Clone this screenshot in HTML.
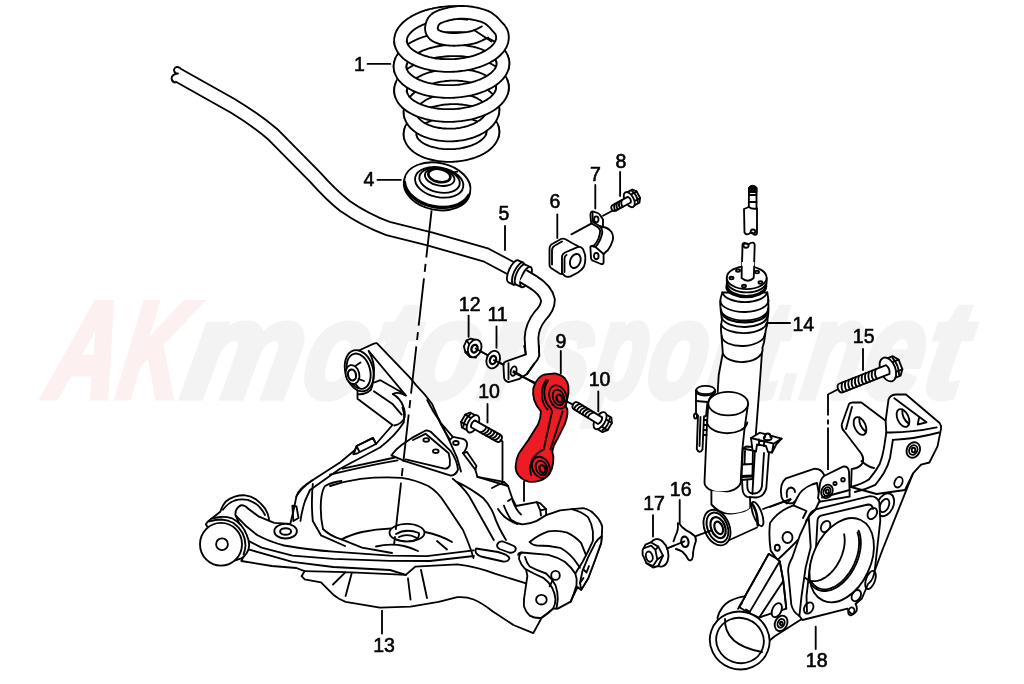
<!DOCTYPE html>
<html><head><meta charset="utf-8"><title>Rear suspension diagram</title>
<style>
html,body{margin:0;padding:0;background:#fff;}
body{width:1024px;height:684px;overflow:hidden;font-family:"Liberation Sans",sans-serif;}
svg{display:block}
svg path, svg ellipse, svg circle, svg line, svg polyline, svg polygon, svg rect{stroke:#000;stroke-width:1.85;fill:none;stroke-linecap:round;stroke-linejoin:round}
svg .w{fill:#fff}
svg .r{fill:#ed1c24}
svg .k{fill:#000}
svg text{font-family:"Liberation Sans",sans-serif;fill:#000;stroke:#000;stroke-width:0.6}
</style></head><body>
<svg width="1024" height="684" viewBox="0 0 1024 684">
<rect x="0" y="0" width="1024" height="684" style="fill:#fff;stroke:none"/>
<g id="watermark"><text transform="translate(0 396.8) skewX(-10)" y="0" font-size="136" font-weight="bold" font-style="italic" style="stroke-linejoin:miter;stroke-width:7"><tspan x="45.0" textLength="67.7" lengthAdjust="spacingAndGlyphs" style="fill:#fcf0f0;stroke:#fcf0f0">A</tspan><tspan x="115.5" textLength="62.2" lengthAdjust="spacingAndGlyphs" style="fill:#fcf0f0;stroke:#fcf0f0">K</tspan><tspan x="180.5" textLength="116.2" lengthAdjust="spacingAndGlyphs" style="fill:#f3f3f3;stroke:#f3f3f3">m</tspan><tspan x="299.5" textLength="64.2" lengthAdjust="spacingAndGlyphs" style="fill:#f3f3f3;stroke:#f3f3f3">o</tspan><tspan x="366.5" textLength="39.2" lengthAdjust="spacingAndGlyphs" style="fill:#f3f3f3;stroke:#f3f3f3">t</tspan><tspan x="408.5" textLength="66.2" lengthAdjust="spacingAndGlyphs" style="fill:#f3f3f3;stroke:#f3f3f3">o</tspan><tspan x="477.5" textLength="50.2" lengthAdjust="spacingAndGlyphs" style="fill:#f3f3f3;stroke:#f3f3f3">r</tspan><tspan x="530.5" textLength="56.2" lengthAdjust="spacingAndGlyphs" style="fill:#f3f3f3;stroke:#f3f3f3">s</tspan><tspan x="589.5" textLength="51.2" lengthAdjust="spacingAndGlyphs" style="fill:#f3f3f3;stroke:#f3f3f3">p</tspan><tspan x="643.5" textLength="57.2" lengthAdjust="spacingAndGlyphs" style="fill:#f3f3f3;stroke:#f3f3f3">o</tspan><tspan x="703.5" textLength="38.2" lengthAdjust="spacingAndGlyphs" style="fill:#f3f3f3;stroke:#f3f3f3">r</tspan><tspan x="744.5" textLength="32.2" lengthAdjust="spacingAndGlyphs" style="fill:#f3f3f3;stroke:#f3f3f3">t</tspan><tspan x="779.5" textLength="17.2" lengthAdjust="spacingAndGlyphs" style="fill:#f3f3f3;stroke:#f3f3f3">.</tspan><tspan x="799.5" textLength="57.2" lengthAdjust="spacingAndGlyphs" style="fill:#f3f3f3;stroke:#f3f3f3">n</tspan><tspan x="859.5" textLength="58.2" lengthAdjust="spacingAndGlyphs" style="fill:#f3f3f3;stroke:#f3f3f3">e</tspan><tspan x="920.5" textLength="38.2" lengthAdjust="spacingAndGlyphs" style="fill:#f3f3f3;stroke:#f3f3f3">t</tspan></text></g>
<g id="bar"><path d="M176 74 L233 106 Q256 120 273 134.500 L315 177 Q332 196 345 206 Q365 220 388 228.500 L430 239 L486 255 L517 271.500" style="fill:none;stroke:#000;stroke-width:15.5;stroke-linecap:butt" /><path d="M176 74 L233 106 Q256 120 273 134.500 L315 177 Q332 196 345 206 Q365 220 388 228.500 L430 239 L486 255 L517 271.500" style="fill:none;stroke:#fff;stroke-width:11.8;stroke-linecap:butt" /><path class="w" d="M180 68 Q175.500 65.500 174 69.500 Q174 73.500 178 73.500 Q172 74 171.500 78.500 Q172 82 175 82.500" /><g transform="translate(521.500 275) rotate(24)"><path class="w" d="M-9 -12 A4.500 12 0 0 0 -9 12 L-3.500 12 A4.500 12 0 0 0 -3.500 -12 Z"/><path d="M-3.500 -12 A4.500 12 0 0 0 -3.500 12"/><path class="w" d="M-1 -11 A4.200 11 0 0 0 -1 11 L5 11 A4.200 11 0 0 0 5 -11 Z"/><path d="M5 -11 A4.200 11 0 0 0 5 11"/></g><path d="M523 276 L533 282 Q546 290 548 300 Q548 308 540 316 Q532 326 531.500 338 L532.500 357" style="fill:none;stroke:#000;stroke-width:15.5;stroke-linecap:butt" /><path d="M523 276 L533 282 Q546 290 548 300 Q548 308 540 316 Q532 326 531.500 338 L532.500 357" style="fill:none;stroke:#fff;stroke-width:11.8;stroke-linecap:butt" /><path class="w" d="M524.500 353 L540 353 L539.200 356 Q538 360 534.800 363.100 L526.800 374.100 L518.700 379.200 L508.500 382.100 Q504.500 381 504.100 377.700 L503.400 364.600 Q503.500 362.500 505.600 361.600 L526 354.300 Z" style="stroke:none"/><path d="M524.200 346 L526 354.300 L505.600 361.600 Q503.500 362.500 503.400 364.600 L504.100 377.700 Q504.500 381 508.500 382.100 L518.700 379.200 L526.800 374.100 L534.800 363.100 Q538 360 539.200 355.800 L539 346"/><path d="M508.500 363.100 L508.500 379.200 M526.800 374.100 L534 364"/><ellipse cx="513.600" cy="371.100" rx="2.800" ry="4.800" transform="rotate(15 513.600 371.100)"/></g>
<g id="spring"><path d="M410.8 138.5 L410.4 137.3 L410.1 136.0 L410.0 134.7 L410.0 133.5 L410.2 132.2 L410.5 130.9 L410.9 129.6 L411.4 128.4 L412.1 127.1 L412.9 125.9 L413.8 124.7 L414.9 123.5 L416.0 122.4 L417.3 121.3 L418.7 120.2 L420.2 119.1 L421.8 118.2 L423.5 117.2 L425.3 116.3 L427.2 115.5 L429.1 114.7 L431.2 114.0 L433.3 113.3 L435.4 112.7 L437.6 112.2 L439.9 111.8 L442.1 111.4 L444.5 111.0 L446.8 110.8 L449.1 110.6 L451.5 110.5 L453.9 110.5 L456.2 110.5 L458.5 110.6 L460.9 110.8 L463.1 111.1 L465.4 111.4 L467.6 111.8 L469.7 112.2 L471.8 112.8 L473.9 113.4 L475.8 114.0 L477.7 114.8 L479.5 115.5 L481.2 116.4 L482.8 117.3 L484.3 118.2 L485.7 119.2 L487.0 120.2 L488.1 121.3 L489.2 122.4 L490.1 123.6 L490.9 124.8 L491.6 126.0 L492.1 127.2 L492.5 128.4 L492.8 129.7 L493.0 131.0 L493.0 132.3 L492.9 133.5 L492.6 134.8 L492.2 136.1" style="fill:none;stroke:#000;stroke-width:14.5;stroke-linecap:butt"/><path d="M411.3 139.8 L410.8 138.5 L410.4 137.3 L410.1 136.0 L410.0 134.7 L410.0 133.5 L410.2 132.2 L410.5 130.9 L410.9 129.6 L411.4 128.4 L412.1 127.1 L412.9 125.9 L413.8 124.7 L414.9 123.5 L416.0 122.4 L417.3 121.3 L418.7 120.2 L420.2 119.1 L421.8 118.2 L423.5 117.2 L425.3 116.3 L427.2 115.5 L429.1 114.7 L431.2 114.0 L433.3 113.3 L435.4 112.7 L437.6 112.2 L439.9 111.8 L442.1 111.4 L444.5 111.0 L446.8 110.8 L449.1 110.6 L451.5 110.5 L453.9 110.5 L456.2 110.5 L458.5 110.6 L460.9 110.8 L463.1 111.1 L465.4 111.4 L467.6 111.8 L469.7 112.2 L471.8 112.8 L473.9 113.4 L475.8 114.0 L477.7 114.8 L479.5 115.5 L481.2 116.4 L482.8 117.3 L484.3 118.2 L485.7 119.2 L487.0 120.2 L488.1 121.3 L489.2 122.4 L490.1 123.6 L490.9 124.8 L491.6 126.0 L492.1 127.2 L492.5 128.4 L492.8 129.7 L493.0 131.0 L493.0 132.3 L492.9 133.5 L492.6 134.8 L492.2 136.1 L491.7 137.4" style="fill:none;stroke:#fff;stroke-width:10.8;stroke-linecap:butt"/><path d="M410.8 116.8 L410.4 115.5 L410.1 114.1 L410.0 112.8 L410.0 111.4 L410.2 110.0 L410.5 108.7 L410.9 107.3 L411.4 106.0 L412.1 104.7 L412.9 103.3 L413.8 102.1 L414.9 100.8 L416.0 99.6 L417.3 98.4 L418.7 97.3 L420.2 96.2 L421.8 95.1 L423.5 94.1 L425.3 93.2 L427.2 92.3 L429.1 91.5 L431.2 90.7 L433.3 90.0 L435.4 89.4 L437.6 88.8 L439.9 88.3 L442.1 87.9 L444.5 87.6 L446.8 87.3 L449.1 87.1 L451.5 87.0 L453.9 87.0 L456.2 87.0 L458.5 87.1 L460.9 87.3 L463.1 87.6 L465.4 88.0 L467.6 88.4 L469.7 88.9 L471.8 89.5 L473.9 90.1 L475.8 90.8 L477.7 91.6 L479.5 92.4 L481.2 93.3 L482.8 94.3 L484.3 95.3 L485.7 96.4 L487.0 97.5 L488.1 98.6 L489.2 99.8 L490.1 101.0 L490.9 102.3 L491.6 103.6 L492.1 104.9 L492.5 106.2 L492.8 107.6 L493.0 108.9 L493.0 110.3 L492.9 111.7 L492.6 113.0 L492.2 114.4" style="fill:none;stroke:#000;stroke-width:14.5;stroke-linecap:butt"/><path d="M411.3 118.1 L410.8 116.8 L410.4 115.5 L410.1 114.1 L410.0 112.8 L410.0 111.4 L410.2 110.0 L410.5 108.7 L410.9 107.3 L411.4 106.0 L412.1 104.7 L412.9 103.3 L413.8 102.1 L414.9 100.8 L416.0 99.6 L417.3 98.4 L418.7 97.3 L420.2 96.2 L421.8 95.1 L423.5 94.1 L425.3 93.2 L427.2 92.3 L429.1 91.5 L431.2 90.7 L433.3 90.0 L435.4 89.4 L437.6 88.8 L439.9 88.3 L442.1 87.9 L444.5 87.6 L446.8 87.3 L449.1 87.1 L451.5 87.0 L453.9 87.0 L456.2 87.0 L458.5 87.1 L460.9 87.3 L463.1 87.6 L465.4 88.0 L467.6 88.4 L469.7 88.9 L471.8 89.5 L473.9 90.1 L475.8 90.8 L477.7 91.6 L479.5 92.4 L481.2 93.3 L482.8 94.3 L484.3 95.3 L485.7 96.4 L487.0 97.5 L488.1 98.6 L489.2 99.8 L490.1 101.0 L490.9 102.3 L491.6 103.6 L492.1 104.9 L492.5 106.2 L492.8 107.6 L493.0 108.9 L493.0 110.3 L492.9 111.7 L492.6 113.0 L492.2 114.4 L491.7 115.7" style="fill:none;stroke:#fff;stroke-width:10.8;stroke-linecap:butt"/><path d="M401.4 95.6 L401.0 94.1 L400.7 92.6 L400.5 91.1 L400.5 89.6 L400.7 88.1 L401.1 86.6 L401.6 85.1 L402.2 83.6 L403.1 82.1 L404.1 80.7 L405.2 79.3 L406.5 77.9 L407.9 76.5 L409.5 75.2 L411.2 74.0 L413.1 72.7 L415.0 71.6 L417.1 70.5 L419.3 69.4 L421.6 68.4 L424.0 67.5 L426.5 66.6 L429.1 65.9 L431.7 65.2 L434.4 64.5 L437.2 64.0 L440.0 63.5 L442.8 63.1 L445.7 62.8 L448.6 62.6 L451.5 62.5 L454.4 62.5 L457.3 62.5 L460.2 62.6 L463.0 62.8 L465.8 63.1 L468.6 63.5 L471.3 64.0 L473.9 64.5 L476.5 65.1 L479.0 65.9 L481.4 66.6 L483.7 67.5 L485.9 68.4 L488.0 69.4 L489.9 70.4 L491.8 71.5 L493.5 72.7 L495.1 73.9 L496.5 75.2 L497.8 76.5 L498.9 77.8 L499.9 79.2 L500.8 80.7 L501.4 82.1 L501.9 83.6 L502.3 85.1 L502.5 86.6 L502.5 88.1 L502.3 89.6 L502.0 91.1 L501.6 92.6" style="fill:none;stroke:#000;stroke-width:14.5;stroke-linecap:butt"/><path d="M402.1 97.0 L401.4 95.6 L401.0 94.1 L400.7 92.6 L400.5 91.1 L400.5 89.6 L400.7 88.1 L401.1 86.6 L401.6 85.1 L402.2 83.6 L403.1 82.1 L404.1 80.7 L405.2 79.3 L406.5 77.9 L407.9 76.5 L409.5 75.2 L411.2 74.0 L413.1 72.7 L415.0 71.6 L417.1 70.5 L419.3 69.4 L421.6 68.4 L424.0 67.5 L426.5 66.6 L429.1 65.9 L431.7 65.2 L434.4 64.5 L437.2 64.0 L440.0 63.5 L442.8 63.1 L445.7 62.8 L448.6 62.6 L451.5 62.5 L454.4 62.5 L457.3 62.5 L460.2 62.6 L463.0 62.8 L465.8 63.1 L468.6 63.5 L471.3 64.0 L473.9 64.5 L476.5 65.1 L479.0 65.9 L481.4 66.6 L483.7 67.5 L485.9 68.4 L488.0 69.4 L489.9 70.4 L491.8 71.5 L493.5 72.7 L495.1 73.9 L496.5 75.2 L497.8 76.5 L498.9 77.8 L499.9 79.2 L500.8 80.7 L501.4 82.1 L501.9 83.6 L502.3 85.1 L502.5 86.6 L502.5 88.1 L502.3 89.6 L502.0 91.1 L501.6 92.6 L500.9 94.1" style="fill:none;stroke:#fff;stroke-width:10.8;stroke-linecap:butt"/><path d="M401.0 71.6 L400.5 70.1 L400.2 68.6 L400.0 67.1 L400.0 65.6 L400.2 64.1 L400.6 62.6 L401.1 61.1 L401.8 59.6 L402.6 58.2 L403.6 56.7 L404.7 55.3 L406.1 53.9 L407.5 52.5 L409.1 51.2 L410.8 50.0 L412.7 48.7 L414.7 47.6 L416.8 46.5 L419.0 45.4 L421.3 44.4 L423.8 43.5 L426.3 42.7 L428.9 41.9 L431.5 41.2 L434.3 40.5 L437.0 40.0 L439.9 39.5 L442.8 39.1 L445.7 38.8 L448.6 38.6 L451.5 38.5 L454.4 38.5 L457.3 38.5 L460.2 38.6 L463.1 38.8 L466.0 39.1 L468.7 39.5 L471.5 40.0 L474.1 40.5 L476.7 41.1 L479.2 41.8 L481.7 42.6 L484.0 43.5 L486.2 44.4 L488.3 45.4 L490.3 46.4 L492.2 47.5 L493.9 48.7 L495.5 49.9 L496.9 51.2 L498.3 52.5 L499.4 53.8 L500.4 55.2 L501.2 56.6 L501.9 58.1 L502.4 59.6 L502.8 61.0 L503.0 62.5 L503.0 64.0 L502.8 65.6 L502.5 67.1 L502.0 68.6" style="fill:none;stroke:#000;stroke-width:14.5;stroke-linecap:butt"/><path d="M401.6 73.1 L401.0 71.6 L400.5 70.1 L400.2 68.6 L400.0 67.1 L400.0 65.6 L400.2 64.1 L400.6 62.6 L401.1 61.1 L401.8 59.6 L402.6 58.2 L403.6 56.7 L404.7 55.3 L406.1 53.9 L407.5 52.5 L409.1 51.2 L410.8 50.0 L412.7 48.7 L414.7 47.6 L416.8 46.5 L419.0 45.4 L421.3 44.4 L423.8 43.5 L426.3 42.7 L428.9 41.9 L431.5 41.2 L434.3 40.5 L437.0 40.0 L439.9 39.5 L442.8 39.1 L445.7 38.8 L448.6 38.6 L451.5 38.5 L454.4 38.5 L457.3 38.5 L460.2 38.6 L463.1 38.8 L466.0 39.1 L468.7 39.5 L471.5 40.0 L474.1 40.5 L476.7 41.1 L479.2 41.8 L481.7 42.6 L484.0 43.5 L486.2 44.4 L488.3 45.4 L490.3 46.4 L492.2 47.5 L493.9 48.7 L495.5 49.9 L496.9 51.2 L498.3 52.5 L499.4 53.8 L500.4 55.2 L501.2 56.6 L501.9 58.1 L502.4 59.6 L502.8 61.0 L503.0 62.5 L503.0 64.0 L502.8 65.6 L502.5 67.1 L502.0 68.6 L501.4 70.1" style="fill:none;stroke:#fff;stroke-width:10.8;stroke-linecap:butt"/><path d="M401.2 44.9 L400.9 44.0 L400.8 43.2 L400.6 42.3 L400.5 41.4 L400.5 40.5 L400.5 39.6 L400.6 38.7 L400.8 37.8 L401.0 36.9 L401.2 36.0 L401.5 35.2 L401.9 34.3 L402.3 33.4 L402.8 32.5 L403.4 31.7 L404.0 30.8 L404.6 30.0 L405.3 29.2 L406.1 28.3 L406.9 27.5 L407.7 26.7 L408.6 25.9 L409.6 25.2 L410.6 24.4 L411.6 23.7 L412.7 23.0 L413.8 22.3 L415.0 21.6 L416.2 20.9 L417.5 20.3 L418.8 19.7 L420.1 19.1 L421.5 18.5 L422.9 17.9 L424.3 17.4 L425.8 16.9 L427.2 16.4 L428.8 16.0 L430.3 15.5 L431.9 15.1 L433.5 14.8 L435.1 14.4 L436.7 14.1 L438.4 13.8 L440.0 13.5 L441.7 13.3 L443.4 13.1 L445.1 12.9 L446.8 12.8 L448.5 12.6 L450.2 12.5 L451.9 12.5 L453.6 12.5 L455.3 12.5 L457.0 12.5 L458.7 12.6 L460.4 12.6 L462.1 12.8 L463.8 12.9 L465.4 13.1 L467.1 13.3 L468.7 13.5" style="fill:none;stroke:#000;stroke-width:14.5;stroke-linecap:butt"/><path d="M401.5 45.8 L401.2 44.9 L400.9 44.0 L400.8 43.2 L400.6 42.3 L400.5 41.4 L400.5 40.5 L400.5 39.6 L400.6 38.7 L400.8 37.8 L401.0 36.9 L401.2 36.0 L401.5 35.2 L401.9 34.3 L402.3 33.4 L402.8 32.5 L403.4 31.7 L404.0 30.8 L404.6 30.0 L405.3 29.2 L406.1 28.3 L406.9 27.5 L407.7 26.7 L408.6 25.9 L409.6 25.2 L410.6 24.4 L411.6 23.7 L412.7 23.0 L413.8 22.3 L415.0 21.6 L416.2 20.9 L417.5 20.3 L418.8 19.7 L420.1 19.1 L421.5 18.5 L422.9 17.9 L424.3 17.4 L425.8 16.9 L427.2 16.4 L428.8 16.0 L430.3 15.5 L431.9 15.1 L433.5 14.8 L435.1 14.4 L436.7 14.1 L438.4 13.8 L440.0 13.5 L441.7 13.3 L443.4 13.1 L445.1 12.9 L446.8 12.8 L448.5 12.6 L450.2 12.5 L451.9 12.5 L453.6 12.5 L455.3 12.5 L457.0 12.5 L458.7 12.6 L460.4 12.6 L462.1 12.8 L463.8 12.9 L465.4 13.1 L467.1 13.3 L468.7 13.5 L470.3 13.8" style="fill:none;stroke:#fff;stroke-width:10.8;stroke-linecap:butt"/><path d="M491.8 126.4 L492.3 127.7 L492.7 129.0 L492.9 130.3 L493.0 131.6 L492.9 132.9 L492.8 134.2 L492.4 135.5 L491.9 136.8 L491.3 138.1 L490.6 139.4 L489.7 140.6 L488.7 141.9 L487.5 143.1 L486.3 144.2 L484.9 145.4 L483.4 146.4 L481.8 147.5 L480.1 148.5 L478.3 149.4 L476.4 150.3 L474.4 151.1 L472.3 151.8 L470.2 152.5 L468.0 153.1 L465.8 153.7 L463.5 154.2 L461.1 154.6 L458.7 154.9 L456.3 155.2 L453.9 155.4 L451.5 155.5 L449.1 155.5 L446.7 155.5 L444.3 155.4 L441.9 155.2 L439.5 154.9 L437.2 154.6 L435.0 154.1 L432.8 153.6 L430.7 153.1 L428.6 152.5 L426.6 151.8 L424.7 151.0 L422.9 150.2 L421.2 149.3 L419.6 148.3 L418.1 147.4 L416.7 146.3 L415.5 145.2 L414.3 144.1 L413.3 142.9 L412.4 141.7 L411.7 140.5 L411.1 139.3 L410.6 138.0 L410.2 136.7 L410.1 135.4 L410.0 134.1 L410.1 132.8 L410.3 131.4 L410.7 130.1 L411.2 128.8" style="fill:none;stroke:#000;stroke-width:14.5;stroke-linecap:butt"/><path d="M491.1 125.2 L491.8 126.4 L492.3 127.7 L492.7 129.0 L492.9 130.3 L493.0 131.6 L492.9 132.9 L492.8 134.2 L492.4 135.5 L491.9 136.8 L491.3 138.1 L490.6 139.4 L489.7 140.6 L488.7 141.9 L487.5 143.1 L486.3 144.2 L484.9 145.4 L483.4 146.4 L481.8 147.5 L480.1 148.5 L478.3 149.4 L476.4 150.3 L474.4 151.1 L472.3 151.8 L470.2 152.5 L468.0 153.1 L465.8 153.7 L463.5 154.2 L461.1 154.6 L458.7 154.9 L456.3 155.2 L453.9 155.4 L451.5 155.5 L449.1 155.5 L446.7 155.5 L444.3 155.4 L441.9 155.2 L439.5 154.9 L437.2 154.6 L435.0 154.1 L432.8 153.6 L430.7 153.1 L428.6 152.5 L426.6 151.8 L424.7 151.0 L422.9 150.2 L421.2 149.3 L419.6 148.3 L418.1 147.4 L416.7 146.3 L415.5 145.2 L414.3 144.1 L413.3 142.9 L412.4 141.7 L411.7 140.5 L411.1 139.3 L410.6 138.0 L410.2 136.7 L410.1 135.4 L410.0 134.1 L410.1 132.8 L410.3 131.4 L410.7 130.1 L411.2 128.8 L411.9 127.5" style="fill:none;stroke:#fff;stroke-width:10.8;stroke-linecap:butt"/><path d="M491.8 104.1 L492.3 105.4 L492.7 106.8 L492.9 108.2 L493.0 109.6 L492.9 111.0 L492.8 112.4 L492.4 113.8 L491.9 115.2 L491.3 116.5 L490.6 117.9 L489.7 119.2 L488.7 120.5 L487.5 121.8 L486.3 123.0 L484.9 124.2 L483.4 125.4 L481.8 126.5 L480.1 127.5 L478.3 128.5 L476.4 129.5 L474.4 130.3 L472.3 131.1 L470.2 131.9 L468.0 132.5 L465.8 133.1 L463.5 133.6 L461.1 134.1 L458.7 134.4 L456.3 134.7 L453.9 134.9 L451.5 135.0 L449.1 135.0 L446.7 135.0 L444.3 134.8 L441.9 134.6 L439.5 134.3 L437.2 134.0 L435.0 133.5 L432.8 133.0 L430.7 132.4 L428.6 131.7 L426.6 131.0 L424.7 130.1 L422.9 129.3 L421.2 128.3 L419.6 127.3 L418.1 126.2 L416.7 125.1 L415.5 124.0 L414.3 122.8 L413.3 121.5 L412.4 120.2 L411.7 118.9 L411.1 117.6 L410.6 116.2 L410.2 114.9 L410.1 113.5 L410.0 112.1 L410.1 110.7 L410.3 109.3 L410.7 107.9 L411.2 106.5" style="fill:none;stroke:#000;stroke-width:14.5;stroke-linecap:butt"/><path d="M491.1 102.7 L491.8 104.1 L492.3 105.4 L492.7 106.8 L492.9 108.2 L493.0 109.6 L492.9 111.0 L492.8 112.4 L492.4 113.8 L491.9 115.2 L491.3 116.5 L490.6 117.9 L489.7 119.2 L488.7 120.5 L487.5 121.8 L486.3 123.0 L484.9 124.2 L483.4 125.4 L481.8 126.5 L480.1 127.5 L478.3 128.5 L476.4 129.5 L474.4 130.3 L472.3 131.1 L470.2 131.9 L468.0 132.5 L465.8 133.1 L463.5 133.6 L461.1 134.1 L458.7 134.4 L456.3 134.7 L453.9 134.9 L451.5 135.0 L449.1 135.0 L446.7 135.0 L444.3 134.8 L441.9 134.6 L439.5 134.3 L437.2 134.0 L435.0 133.5 L432.8 133.0 L430.7 132.4 L428.6 131.7 L426.6 131.0 L424.7 130.1 L422.9 129.3 L421.2 128.3 L419.6 127.3 L418.1 126.2 L416.7 125.1 L415.5 124.0 L414.3 122.8 L413.3 121.5 L412.4 120.2 L411.7 118.9 L411.1 117.6 L410.6 116.2 L410.2 114.9 L410.1 113.5 L410.0 112.1 L410.1 110.7 L410.3 109.3 L410.7 107.9 L411.2 106.5 L411.9 105.1" style="fill:none;stroke:#fff;stroke-width:10.8;stroke-linecap:butt"/><path d="M501.0 81.2 L501.6 82.7 L502.1 84.2 L502.4 85.7 L502.5 87.3 L502.4 88.8 L502.2 90.4 L501.8 91.9 L501.2 93.5 L500.4 95.0 L499.5 96.5 L498.4 97.9 L497.2 99.4 L495.8 100.8 L494.2 102.2 L492.5 103.5 L490.7 104.8 L488.7 106.0 L486.6 107.2 L484.4 108.3 L482.1 109.3 L479.6 110.3 L477.1 111.1 L474.5 112.0 L471.8 112.7 L469.0 113.4 L466.2 113.9 L463.3 114.4 L460.4 114.8 L457.4 115.1 L454.5 115.4 L451.5 115.5 L448.5 115.5 L445.6 115.5 L442.6 115.4 L439.7 115.1 L436.8 114.8 L434.0 114.4 L431.2 113.9 L428.5 113.3 L425.9 112.7 L423.4 111.9 L420.9 111.1 L418.6 110.2 L416.4 109.3 L414.3 108.2 L412.3 107.1 L410.5 106.0 L408.8 104.7 L407.2 103.5 L405.8 102.1 L404.6 100.8 L403.5 99.4 L402.6 97.9 L401.8 96.4 L401.2 94.9 L400.8 93.4 L400.6 91.9 L400.5 90.3 L400.6 88.8 L400.9 87.2 L401.4 85.7 L402.0 84.1" style="fill:none;stroke:#000;stroke-width:14.5;stroke-linecap:butt"/><path d="M500.2 79.7 L501.0 81.2 L501.6 82.7 L502.1 84.2 L502.4 85.7 L502.5 87.3 L502.4 88.8 L502.2 90.4 L501.8 91.9 L501.2 93.5 L500.4 95.0 L499.5 96.5 L498.4 97.9 L497.2 99.4 L495.8 100.8 L494.2 102.2 L492.5 103.5 L490.7 104.8 L488.7 106.0 L486.6 107.2 L484.4 108.3 L482.1 109.3 L479.6 110.3 L477.1 111.1 L474.5 112.0 L471.8 112.7 L469.0 113.4 L466.2 113.9 L463.3 114.4 L460.4 114.8 L457.4 115.1 L454.5 115.4 L451.5 115.5 L448.5 115.5 L445.6 115.5 L442.6 115.4 L439.7 115.1 L436.8 114.8 L434.0 114.4 L431.2 113.9 L428.5 113.3 L425.9 112.7 L423.4 111.9 L420.9 111.1 L418.6 110.2 L416.4 109.3 L414.3 108.2 L412.3 107.1 L410.5 106.0 L408.8 104.7 L407.2 103.5 L405.8 102.1 L404.6 100.8 L403.5 99.4 L402.6 97.9 L401.8 96.4 L401.2 94.9 L400.8 93.4 L400.6 91.9 L400.5 90.3 L400.6 88.8 L400.9 87.2 L401.4 85.7 L402.0 84.1 L402.8 82.6" style="fill:none;stroke:#fff;stroke-width:10.8;stroke-linecap:butt"/><path d="M501.5 57.2 L502.1 58.7 L502.6 60.2 L502.9 61.7 L503.0 63.3 L502.9 64.8 L502.7 66.4 L502.3 67.9 L501.7 69.4 L500.9 71.0 L500.0 72.5 L498.9 73.9 L497.6 75.4 L496.2 76.8 L494.7 78.2 L492.9 79.5 L491.1 80.8 L489.1 82.0 L487.0 83.1 L484.7 84.2 L482.4 85.3 L479.9 86.2 L477.4 87.1 L474.7 88.0 L472.0 88.7 L469.2 89.4 L466.3 89.9 L463.4 90.4 L460.5 90.8 L457.5 91.1 L454.5 91.4 L451.5 91.5 L448.5 91.5 L445.5 91.5 L442.5 91.4 L439.6 91.1 L436.7 90.8 L433.8 90.4 L431.0 89.9 L428.3 89.4 L425.6 88.7 L423.1 88.0 L420.6 87.1 L418.3 86.2 L416.0 85.3 L413.9 84.2 L411.9 83.1 L410.1 82.0 L408.3 80.7 L406.8 79.5 L405.4 78.1 L404.1 76.8 L403.0 75.4 L402.1 73.9 L401.3 72.4 L400.7 70.9 L400.3 69.4 L400.1 67.9 L400.0 66.3 L400.1 64.8 L400.4 63.2 L400.9 61.7 L401.5 60.2" style="fill:none;stroke:#000;stroke-width:14.5;stroke-linecap:butt"/><path d="M500.7 55.7 L501.5 57.2 L502.1 58.7 L502.6 60.2 L502.9 61.7 L503.0 63.3 L502.9 64.8 L502.7 66.4 L502.3 67.9 L501.7 69.4 L500.9 71.0 L500.0 72.5 L498.9 73.9 L497.6 75.4 L496.2 76.8 L494.7 78.2 L492.9 79.5 L491.1 80.8 L489.1 82.0 L487.0 83.1 L484.7 84.2 L482.4 85.3 L479.9 86.2 L477.4 87.1 L474.7 88.0 L472.0 88.7 L469.2 89.4 L466.3 89.9 L463.4 90.4 L460.5 90.8 L457.5 91.1 L454.5 91.4 L451.5 91.5 L448.5 91.5 L445.5 91.5 L442.5 91.4 L439.6 91.1 L436.7 90.8 L433.8 90.4 L431.0 89.9 L428.3 89.4 L425.6 88.7 L423.1 88.0 L420.6 87.1 L418.3 86.2 L416.0 85.3 L413.9 84.2 L411.9 83.1 L410.1 82.0 L408.3 80.7 L406.8 79.5 L405.4 78.1 L404.1 76.8 L403.0 75.4 L402.1 73.9 L401.3 72.4 L400.7 70.9 L400.3 69.4 L400.1 67.9 L400.0 66.3 L400.1 64.8 L400.4 63.2 L400.9 61.7 L401.5 60.2 L402.3 58.6" style="fill:none;stroke:#fff;stroke-width:10.8;stroke-linecap:butt"/><path d="M485.5 31.7 L485.0 32.0 L484.3 32.3 L483.7 32.7 L482.9 33.1 L482.1 33.5 L481.2 33.9 L480.3 34.4 L479.4 34.8 L478.4 35.3 L477.4 35.7 L476.3 36.2 L475.3 36.5 L474.2 36.9 L473.1 37.2 L472.0 37.5 L470.9 37.7 L469.6 38.0 L468.4 38.2 L467.0 38.4 L465.6 38.6 L464.2 38.7 L462.8 38.9 L461.4 39.0 L459.9 39.1 L458.5 39.2 L457.1 39.3 L455.7 39.3 L454.3 39.4 L453.0 39.4 L451.8 39.3 L450.6 39.3 L449.5 39.2 L448.3 39.1 L447.2 39.0 L446.1 38.8 L445.0 38.7 L444.0 38.5 L443.0 38.3 L442.0 38.0 L441.0 37.8 L440.1 37.5 L439.2 37.2 L438.3 36.9 L437.6 36.6 L436.8 36.2 L436.1 35.9 L435.5 35.5 L434.9 35.1 L434.4 34.7 L433.9 34.3 L433.5 33.8 L433.1 33.3 L432.7 32.8 L432.4 32.3 L432.1 31.8 L431.9 31.2 L431.7 30.7 L431.6 30.1 L431.5 29.6 L431.4 29.0 L431.4 28.4 L431.4 27.9 L431.5 27.3 L431.6 26.7 L431.7 26.1 L431.8 25.5 L432.0 24.9 L432.2 24.2 L432.4 23.5 L432.7 22.9 L433.0 22.2 L433.4 21.6 L433.8 20.9 L434.4 20.3 L434.9 19.7 L435.6 19.1 L436.3 18.5 L437.1 18.0 L438.0 17.5 L439.0 17.0 L440.1 16.6 L441.4 16.1 L442.7 15.6 L444.1 15.2 L445.6 14.8 L447.1 14.4 L448.7 14.0 L450.3 13.6 L451.9 13.3 L453.6 13.0 L455.2 12.8 L456.9 12.6 L458.5 12.4 L460.1 12.3 L461.6 12.3 L463.1 12.3 L464.7 12.4 L466.3 12.5 L467.9 12.6 L469.5 12.8 L471.2 13.0 L472.8 13.3 L474.4 13.6 L476.0 13.9 L477.6 14.3 L479.2 14.7 L480.6 15.1 L482.1 15.5 L483.5 16.0 L484.8 16.5 L486.0 17.0 L487.2 17.6 L488.3 18.2 L489.4 19.0 L490.5 19.8 L491.5 20.6 L492.5 21.5 L493.4 22.4 L494.3 23.3 L495.1 24.2 L495.9 25.1 L496.6 25.9 L497.3 26.7 L498.0 27.4 L498.5 28.0 L499.0 28.6 L499.5 29.0 L501.3 31.7 L501.8 33.1 L502.2 34.5 L502.4 35.9 L502.5 37.3 L502.4 38.7 L502.2 40.1 L501.9 41.5 L501.4 42.9 L500.8 44.3 L500.0 45.7 L499.1 47.1 L498.1 48.4 L496.9 49.7 L495.6 51.0 L494.2 52.2 L492.6 53.4 L491.0 54.6 L489.2 55.7 L487.3 56.8 L485.3 57.8 L483.2 58.8 L481.1 59.7 L478.8 60.6 L476.5 61.4 L474.1 62.1 L471.6 62.8 L469.1 63.4 L466.5 63.9 L463.9 64.3 L461.2 64.7 L458.5 65.0 L455.8 65.3 L453.1 65.4 L450.4 65.5 L447.7 65.5 L445.0 65.5 L442.3 65.3 L439.6 65.1 L437.0 64.8 L434.4 64.5 L431.9 64.1 L429.4 63.5 L427.0 63.0 L424.6 62.3 L422.4 61.6 L420.2 60.9 L418.1 60.0 L416.1 59.1 L414.2 58.2 L412.4 57.2 L410.7 56.1 L409.1 55.0 L407.7 53.9 L406.3 52.7 L405.1 51.4 L404.1 50.2 L403.1 48.9 L402.3 47.5 L401.7 46.2 L401.2 44.8 L400.8 43.4 L400.6 42.0 L400.5 40.6" style="fill:none;stroke:#000;stroke-width:14.5;stroke-linecap:butt"/><path d="M486.0 31.5 L485.5 31.7 L485.0 32.0 L484.3 32.3 L483.7 32.7 L482.9 33.1 L482.1 33.5 L481.2 33.9 L480.3 34.4 L479.4 34.8 L478.4 35.3 L477.4 35.7 L476.3 36.2 L475.3 36.5 L474.2 36.9 L473.1 37.2 L472.0 37.5 L470.9 37.7 L469.6 38.0 L468.4 38.2 L467.0 38.4 L465.6 38.6 L464.2 38.7 L462.8 38.9 L461.4 39.0 L459.9 39.1 L458.5 39.2 L457.1 39.3 L455.7 39.3 L454.3 39.4 L453.0 39.4 L451.8 39.3 L450.6 39.3 L449.5 39.2 L448.3 39.1 L447.2 39.0 L446.1 38.8 L445.0 38.7 L444.0 38.5 L443.0 38.3 L442.0 38.0 L441.0 37.8 L440.1 37.5 L439.2 37.2 L438.3 36.9 L437.6 36.6 L436.8 36.2 L436.1 35.9 L435.5 35.5 L434.9 35.1 L434.4 34.7 L433.9 34.3 L433.5 33.8 L433.1 33.3 L432.7 32.8 L432.4 32.3 L432.1 31.8 L431.9 31.2 L431.7 30.7 L431.6 30.1 L431.5 29.6 L431.4 29.0 L431.4 28.4 L431.4 27.9 L431.5 27.3 L431.6 26.7 L431.7 26.1 L431.8 25.5 L432.0 24.9 L432.2 24.2 L432.4 23.5 L432.7 22.9 L433.0 22.2 L433.4 21.6 L433.8 20.9 L434.4 20.3 L434.9 19.7 L435.6 19.1 L436.3 18.5 L437.1 18.0 L438.0 17.5 L439.0 17.0 L440.1 16.6 L441.4 16.1 L442.7 15.6 L444.1 15.2 L445.6 14.8 L447.1 14.4 L448.7 14.0 L450.3 13.6 L451.9 13.3 L453.6 13.0 L455.2 12.8 L456.9 12.6 L458.5 12.4 L460.1 12.3 L461.6 12.3 L463.1 12.3 L464.7 12.4 L466.3 12.5 L467.9 12.6 L469.5 12.8 L471.2 13.0 L472.8 13.3 L474.4 13.6 L476.0 13.9 L477.6 14.3 L479.2 14.7 L480.6 15.1 L482.1 15.5 L483.5 16.0 L484.8 16.5 L486.0 17.0 L487.2 17.6 L488.3 18.2 L489.4 19.0 L490.5 19.8 L491.5 20.6 L492.5 21.5 L493.4 22.4 L494.3 23.3 L495.1 24.2 L495.9 25.1 L496.6 25.9 L497.3 26.7 L498.0 27.4 L498.5 28.0 L499.0 28.6 L499.5 29.0 L501.3 31.7 L501.8 33.1 L502.2 34.5 L502.4 35.9 L502.5 37.3 L502.4 38.7 L502.2 40.1 L501.9 41.5 L501.4 42.9 L500.8 44.3 L500.0 45.7 L499.1 47.1 L498.1 48.4 L496.9 49.7 L495.6 51.0 L494.2 52.2 L492.6 53.4 L491.0 54.6 L489.2 55.7 L487.3 56.8 L485.3 57.8 L483.2 58.8 L481.1 59.7 L478.8 60.6 L476.5 61.4 L474.1 62.1 L471.6 62.8 L469.1 63.4 L466.5 63.9 L463.9 64.3 L461.2 64.7 L458.5 65.0 L455.8 65.3 L453.1 65.4 L450.4 65.5 L447.7 65.5 L445.0 65.5 L442.3 65.3 L439.6 65.1 L437.0 64.8 L434.4 64.5 L431.9 64.1 L429.4 63.5 L427.0 63.0 L424.6 62.3 L422.4 61.6 L420.2 60.9 L418.1 60.0 L416.1 59.1 L414.2 58.2 L412.4 57.2 L410.7 56.1 L409.1 55.0 L407.7 53.9 L406.3 52.7 L405.1 51.4 L404.1 50.2 L403.1 48.9 L402.3 47.5 L401.7 46.2 L401.2 44.8 L400.8 43.4 L400.6 42.0 L400.5 40.6 L400.6 39.2" style="fill:none;stroke:#fff;stroke-width:10.8;stroke-linecap:butt"/><path d="M474 30 L491.500 41.500"/></g>
<g id="seat"><g transform="rotate(11.600 437.300 185.500)">
<ellipse class="w" cx="437.300" cy="187.300" rx="33.500" ry="22.600"/>
<ellipse class="w" cx="437.300" cy="185.200" rx="33.500" ry="22.300"/>
<path d="M404.500 189 A33.500 22.600 0 0 0 470 189" style="stroke-width:3.200"/>
<ellipse cx="438.500" cy="182" rx="24.500" ry="14.800"/>
<ellipse cx="438.500" cy="180" rx="20.500" ry="12"/>
<ellipse cx="438" cy="177" rx="15" ry="8.300"/>
<ellipse cx="437.300" cy="175.300" rx="11.200" ry="6.500" style="stroke-width:2.600"/>
</g>
<path d="M449.100 173.400 L457.300 171.700"/>
</g>
<g id="bushing6"><path class="w" d="M549.500 249 Q549.500 245 553 243.500 L561 239 Q563.500 238 566 239.500 L572 243 L580 247.300 L563 256 L562 274 L559.500 273.600 L551 268 Q549.500 267 549.500 265 Z"/>
<path d="M552 250.500 Q552 247 555 245.500 L562 241.500 M552 250.500 L552 264.500"/>
<path class="w" d="M562 257 Q562 254 565 252.500 L577 247.300 Q581 246 583 249 L585 254.500 Q586 261 584 266.500 Q582 270 578 272.500 L570.500 276.300 Q567 277.500 565 276 L563 274.300 Q562 273 562 271 Z"/>
<path d="M564.500 258.500 Q564.500 256 566.500 255 M564.500 258.500 L564.500 272"/>
<ellipse cx="575.300" cy="261" rx="5" ry="7.300" transform="rotate(22 575.3 261)"/>
</g>
<g id="clamp7"><path d="M571.400 234.400 L594.500 221.900 M603 215.800 L612.400 210.700"/>
<path class="w" d="M590.400 215 Q590.400 211 593.500 211.600 L597.500 213 Q599 213.500 600 215 L603 219.500 L603 227 Q608 227.500 611.500 232 Q614 236 612.500 241 Q611 246 608 250 L603.600 254 L603.600 262.500 Q603.500 264.500 601 264 L592.500 260.500 Q591 260 591 258 L590.400 247.500 Q590.400 246 592 246 L594 245.500 Q597 242 598.500 238.500 Q600.500 233 600 230 L598 227.300 L592.500 224 Q591 223.300 591 221.500 Z"/>
<path d="M592.500 212.500 Q592.500 214 593 222 L599.500 226 L603 227 M599.500 226 Q603 229 602 234 Q600.500 241 595.500 247 L603.600 254 M595.500 247 L592 246"/>
<ellipse cx="596.300" cy="219.300" rx="2.200" ry="3"/>
<ellipse cx="596.300" cy="256" rx="2.300" ry="3.200"/>
</g>
<g id="bolt8"><g transform="translate(613 208.5) rotate(-28.5)"><path class="w" d="M18.5 -7.5 L26.0 -7.5 L28.9 -3.7 L28.9 3.7 L26.0 7.5 L18.5 7.5 Z"/><path d="M28.9 -3.7 L20.5 -3.7"/><path d="M28.9 3.7 L20.5 3.7"/><path d="M25.0 -6.0 Q27.7 0 25.0 6.0"/><ellipse class="w" cx="18.5" cy="0" rx="4.4" ry="8.3"/><path class="w" d="M18.5 -3.2 L2 -3.2 Q-1.500 -3.2 -1.500 0 Q-1.500 3.2 2 3.2 L18.5 3.2 Q21.0 0 18.5 -3.2Z"/><path d="M3.9 -3.2 Q0.1 0 1.5 3.2"/><path d="M6.6 -3.2 Q2.8 0 4.2 3.2"/><path d="M9.3 -3.2 Q5.5 0 6.9 3.2"/><path d="M12.0 -3.2 Q8.2 0 9.6 3.2"/></g></g>
<g id="strut"><!-- main tube (behind) -->
<path class="w" d="M722.800 353 L717.500 400 L704 480 L752 494 L756 432 L760.400 375 L762.300 347.700 Z" style="stroke:none"/>
<path d="M722.800 353 L718.700 375 L717.700 392 M762.300 347.700 L760.400 375 L756 432 L752.400 494"/>
<!-- upper rod -->
<path class="w" d="M749 188 Q752.500 184 756.500 188 L756.500 207.500 L757 209 L757 232 Q757.500 235.500 754 234.500 Q751.500 231 749.500 233.500 Q746 235.500 744.500 232.500 L744 209 L748.800 207 Z"/>
<path class="k" d="M749 188 Q752.500 183.500 756.500 188 L756.500 192 L749 192 Z"/>
<path d="M748.800 202 L756.500 202 M748.800 207 Q752 209.500 757 208.500 M749 195 L756.500 195"/>
<ellipse cx="753" cy="231.500" rx="2.300" ry="2"/>
<!-- lower rod -->
<path class="w" d="M742.500 246 Q742 242.500 745 243 Q748.500 245.500 750.500 243 Q754.500 241.500 754.700 245 L753.700 278 Q748 283 741.600 278 Z"/>
<ellipse cx="746" cy="245.500" rx="2.600" ry="2.200"/>
<!-- bellows -->
<path class="w" d="M722.300 292.500 Q719.800 299 720.300 305 Q720.600 312 722 319.600 Q720.800 325 721 330 L722 342.500 L722.800 353 A20 11.500 -3 0 0 762.300 348 L764 342.500 L765.800 330 Q767.800 324 767.500 319.600 Q768.800 312 768.400 305.600 Q768.500 298 767.300 292.500 Z"/>
<path d="M722.300 292.500 A22.800 11.500 0 0 0 767.300 292.500"/>
<path d="M720.300 301 A24 11.500 0 0 0 768.400 300"/>
<path d="M721 309.500 A23.500 11.500 0 0 0 768 308.500"/>
<path d="M722.300 314 A22.800 10.500 0 0 0 767.300 313" style="stroke-width:2.200"/>
<path d="M721.800 318 A23 11 0 0 0 767.300 317"/>
<path d="M721 324.500 A23 10.800 0 0 0 766.500 323"/>
<path d="M721.800 336 A21.500 11 -3 0 0 764.800 334"/>
<!-- neck -->
<path class="w" d="M726.800 283 L726.300 288 A20 10.500 0 0 0 766 288 L766.500 283 Z"/>
<path d="M727 286.500 A19.700 11.300 0 0 0 766 286.500" style="stroke-width:2.600"/>
<!-- top disc -->
<path class="w" d="M726.800 277.500 L726.800 281 A19.900 11.400 0 0 0 766.700 281 L766.700 278 Z"/>
<ellipse class="w" cx="746.700" cy="277.700" rx="19.900" ry="11.400"/>
<path class="w" d="M741.800 262 L741.600 278 Q748 283.500 753.700 278 L754.300 262 Z" style="stroke:none"/>
<path d="M741.800 266.500 L741.600 278 Q748 283.500 753.700 278 L754.200 266.500"/>
<ellipse cx="731.500" cy="278" rx="2" ry="1.300"/><ellipse cx="744" cy="286" rx="2" ry="1.300"/><ellipse cx="760.500" cy="282.500" rx="2" ry="1.300"/><ellipse cx="757" cy="272" rx="2" ry="1.300"/><ellipse cx="738" cy="270.500" rx="2" ry="1.300"/>
<!-- reservoir -->
<path class="w" d="M708.300 404 L707 424 L704.500 482 A18.200 10.500 -3 0 0 740.700 482.500 L742.500 448 L744.500 429 L748 404 Z"/>
<ellipse class="w" cx="728.200" cy="403.600" rx="19.900" ry="11.800"/>
<path d="M707.200 420.500 A20.100 11.700 0 0 0 747.300 422.500"/>
<!-- left valve -->
<path class="w" d="M696 390 L696 414 L698 415.500 L696.800 449 Q699.500 454.500 702.500 449.500 L704 416.500 L706 416 L707.500 402 L708.300 401.500 Q710 396 715 392.500 L715 390 Z"/>
<ellipse class="w" cx="705.600" cy="390" rx="9.300" ry="4.200"/>
<path d="M697 393.500 Q705 398 714.500 393 M696 401 L707.500 402 M700.500 417 L699.500 446 M704 420 L707 420 M704 425 L707 425 M703.500 430 L706.500 430 M703.500 435 L706.500 435"/>
<ellipse cx="695.500" cy="416" rx="1.500" ry="2.500"/>
<!-- neck below reservoir + eye -->
<path class="w" d="M711.400 491 L711.400 504 L714 510 L752 510 L750.200 498 L750 494 Q735 493 711.400 491Z" style="stroke:none"/>
<path d="M711.400 491.500 L711.400 504.500 Q722 516 735 514 Q746 512.500 750.300 508.500 L750 497"/>
<path class="w" d="M714.500 510 Q722 516 735 514 Q746 512.500 750.300 508.500 L753 503 L759 526 L728 544 Z" style="stroke:none"/>
<path d="M724 542.500 L757 527.500"/>
<!-- right ring -->
<ellipse class="w" cx="757.500" cy="514" rx="4.300" ry="12.800" transform="rotate(-20 757.500 514)"/>
<path d="M752 503.500 Q757.500 511 757.800 525.500" style="stroke-width:2.600"/>
<!-- eye bushing -->
<g transform="rotate(-22 717 527.600)">
<ellipse class="w" cx="717" cy="527.600" rx="12.500" ry="18.500"/>
<ellipse cx="717.500" cy="527.600" rx="10" ry="15.500"/>
<ellipse cx="718" cy="528" rx="7" ry="11" style="stroke-width:2.200"/>
<ellipse cx="718.500" cy="528.500" rx="4" ry="6.500" style="stroke-width:2.200"/>
</g>
<!-- fitting right of reservoir -->
<path class="w" d="M742.900 448.500 L746 446.500 L753 447 L752.400 479 L741.400 480 Z"/>
<path d="M742.900 448.500 L752.800 450.500 M742.200 464.500 L752.600 464 M745 451 L744.500 464"/>
<path d="M741.500 476.500 L752.400 476" style="stroke-width:3.200"/>
<!-- U tube -->
<path d="M769.200 449 L766.300 488 Q764 497 756 497.500 L747 496.800 Q742.900 495 742.500 489 L742 480"/>
<path d="M764 453 L761.900 486.500 Q760.500 493 754.600 493.500 L750.500 493 Q747.500 491.500 747.300 486.500 L747.300 480"/>
<!-- bracket -->
<path class="w" d="M751 438 L759.700 432.700 L781.600 438.600 L776.500 444 L772 452.500 L768 452 L766 446 L757 444.500 L756 451.500 L752.500 450 Z"/>
<path d="M751 438 L773.600 443.700 L781.600 438.600 M773.600 443.700 L772 452.500 M759 439.500 L759 445 M764 441 L764 446"/>
<ellipse class="w" cx="767.700" cy="438" rx="4" ry="2.200"/>
<path class="w" d="M765 437 Q765 433.500 767.700 433.500 Q770.500 433.500 770.500 437"/>
</g>
<g id="knuckle"><!-- far right web line -->
<path d="M921 464.600 L876.500 494 M913 473.400 L882.400 550 L875 570"/>
<!-- fork bracket -->
<path class="w" d="M849 404 Q850 402.500 853 402.500 L861.400 402.500 L885.600 420.800 L888.500 399.600 Q890 395 895.800 394.500 L906 394.500 L939.600 423 Q941.500 425.500 941 428.900 L937.500 446.400 L929.400 462.500 L921 464.600 L913 473.400 L905 490 L876.500 494 L851 487 L851.700 469 Q860 468 862.900 462.500 Q864 458 861.400 453.700 L844.600 431.800 Q841.500 429 841.700 424.500 Z"/>
<path d="M852 407 L846 429 M894.300 398.200 L926.500 422.300 L917.700 424.500 M917.700 424.500 L919 418"/>
<path d="M885.600 420.800 Q886 427 886.300 432.500 Q910 433 936.700 427.400 M892.900 439.800 Q915 439 939 432.500"/>
<path d="M886.300 432.500 L884 447.900 Q882.500 457 879.700 464 Q876 471 869.200 479.200 Q862 484 851 487"/>
<path d="M892.900 439.800 L890 458 Q888 466 884 472.700 Q880 479 875.300 484.900 Q866 489.500 854.800 492"/>
<path d="M861.400 461 Q868 467 874 468"/>
<g transform="rotate(-25 860 426)"><ellipse cx="860" cy="426" rx="5.500" ry="9.500"/><path d="M863 418 Q858.500 426 863 434"/></g>
<g transform="rotate(-25 903 418)"><ellipse cx="903" cy="418" rx="5.500" ry="9.500"/><path d="M906 410 Q901.500 418 906 426"/></g>
<ellipse cx="913.300" cy="450" rx="6.500" ry="8" transform="rotate(25 913.300 450)"/>
<ellipse cx="913.300" cy="450" rx="4" ry="5" transform="rotate(25 913.300 450)"/>
<ellipse cx="913.500" cy="450" rx="1.800" ry="2.300"/>
<!-- boss right of flange -->
<ellipse class="w" cx="885.300" cy="504.800" rx="8" ry="12" transform="rotate(25 885.300 504.800)"/>
<ellipse cx="884.500" cy="505.500" rx="4.200" ry="7" transform="rotate(25 884.500 505.500)"/>
<ellipse class="w" cx="898.500" cy="482.200" rx="3.800" ry="5.500" transform="rotate(25 898.500 482.200)"/>
<!-- left cylinder boss -->
<path class="w" d="M786 478.300 L813.900 468.800 Q821 468.500 824 474.600 L826 486 L806 492 L793 503 Q784 505 781.500 497 Q779 484 786 478.300Z"/>
<path d="M787 497 Q785.500 488 791 487.500 Q795 488.500 795 492 M770 507 L790.500 499.500"/>
<!-- left plate -->
<path class="w" d="M793.400 505.300 L797 498 Q801 489 812 484.500 L817 483 L820 500 L815.500 509.500 L806.500 520 L803 535 L790 548 L777.500 560 L770.700 550.600 Q768.500 536 770 523 Q778 511 793.400 505.300Z"/>
<path d="M793.400 505.300 L806.500 511 L803 518 M790.500 499.500 L787 503.500 L784.500 501"/>
<ellipse cx="787.500" cy="537.500" rx="5" ry="5.500"/>
<ellipse cx="777.300" cy="547.700" rx="2.500" ry="3"/>
<!-- small tab plate with bushing -->
<path class="w" d="M818 498 L819.500 488 Q820 479 824 476 L843 466.600 Q848.500 466 849 471.700 L849.700 496.500 L820.400 501.700 Z"/>
<path d="M849.700 490 L822 497.500"/>
<ellipse cx="827" cy="491.400" rx="5.500" ry="7" transform="rotate(25 827 491.400)"/>
<ellipse cx="827" cy="491.400" rx="3.300" ry="4.500" transform="rotate(25 827 491.400)"/>
<ellipse cx="827.300" cy="491.500" rx="1.500" ry="2"/>
<circle cx="835" cy="483.400" r="1.600"/><circle cx="843" cy="479.700" r="1.800"/>
<!-- lower arm to ring -->
<path class="w" d="M768.700 553.900 L738 608.700 L759.200 617.500 L786.300 608.700 L783.300 581 L779.700 561.200 L776 558.300 Z"/>
<path d="M768.700 553.900 L738 608.700 M779.700 561.200 L749 613.100 M783.300 581 L759.200 617.500 M779.700 561.200 L783.300 581 L786.300 608.700"/>
<!-- ring back -->
<path class="w" d="M717.500 617.500 Q721 606 729.200 601.400 Q737 597 745.300 596.300 L739 607 L749 613 L752 625 L722 640Z"/>
<path d="M738 608.700 L742 603 M746 609.500 L750 612"/>
<!-- web + flange outer -->
<path class="w" d="M808.700 516.600 L800 535 L792.300 557.500 Q787.500 566 788.200 572 L791.300 604.600 Q793 612 799.400 616 L802.500 620 L847.500 608.700 Q852 618 856.500 611 Q857.500 607 855.500 604 L861.900 598.500 L868 584 Q874 580 875 568 L876.200 557.500 L880.300 520.700 L879.300 502.300 Q877 496 870 496.100 L815.800 509.400 Z"/>
<path d="M815.800 509.400 Q810 512 808.700 516.600 L810.700 547.300 L805.600 567.800 L801.500 596.400 L799.400 616"/>
<path d="M821 515.600 L868 504.500 Q872.500 504.500 873 509 M821 515.600 Q817.500 517 817.500 521 L816 547.700 L810 566 L806.500 596 L807 612"/>
<ellipse cx="825.600" cy="526.500" rx="4.300" ry="6" transform="rotate(30 825.600 526.500)"/>
<ellipse cx="872.300" cy="513.500" rx="4.300" ry="6" transform="rotate(30 872.300 513.500)"/>
<ellipse cx="808.700" cy="608" rx="4.300" ry="6" transform="rotate(30 808.700 608)"/>
<ellipse cx="856.300" cy="595.600" rx="4.300" ry="6" transform="rotate(30 856.300 595.600)"/>
<ellipse cx="870.500" cy="580" rx="4.500" ry="9.500" transform="rotate(20 870.500 580)"/>
<ellipse cx="851.300" cy="611.300" rx="3" ry="4" transform="rotate(20 851.300 611.300)"/>
<!-- bore -->
<ellipse class="w" cx="841.700" cy="560.200" rx="44.500" ry="28.800" transform="rotate(-64.700 841.700 560.200)"/>
<path d="M858.6 530.6 L859.4 532.6 L859.9 534.8 L860.4 537.1 L860.7 539.6 L860.8 542.1 L860.8 544.6 L860.6 547.3 L860.2 550.0 L859.7 552.7 L859.1 555.4 L858.3 558.2 L857.3 560.9 L856.3 563.6 L855.0 566.2 L853.7 568.8 L852.2 571.3 L850.7 573.7 L849.0 576.0 L847.3 578.1 L845.4 580.2 L843.6 582.1 L841.6 583.8 L839.6 585.4 L837.6 586.7 L835.5 588.0 L833.4 589.0 L831.4 589.8 L829.3 590.4 L827.3 590.8 L825.3 591.0 L823.4 591.0 L821.5 590.8 L819.7 590.4 L817.9 589.8 L816.3 588.9 L814.8 587.9 L813.3 586.7 L812.0 585.3 L810.9 583.7 L809.8 582.0"/>
<path d="M857.5 532.4 L858.1 534.4 L858.6 536.5 L858.9 538.6 L859.1 540.9 L859.1 543.3 L859.0 545.7 L858.8 548.2 L858.4 550.7 L857.9 553.2 L857.2 555.8 L856.4 558.3 L855.5 560.8 L854.5 563.3 L853.3 565.8 L852.1 568.2 L850.7 570.5 L849.3 572.7 L847.7 574.9 L846.1 576.9 L844.4 578.8 L842.7 580.6 L840.9 582.2 L839.0 583.7 L837.2 585.0 L835.3 586.2 L833.4 587.2 L831.5 588.0 L829.6 588.6 L827.7 589.1 L825.9 589.3 L824.1 589.4 L822.4 589.2 L820.7 588.9 L819.1 588.4 L817.6 587.7 L816.2 586.9 L814.9 585.8 L813.6 584.6 L812.5 583.2 L811.5 581.7"/>
<path d="M844.1 534.3 L844.4 536.0 L844.6 537.8 L844.7 539.6 L844.7 541.4 L844.6 543.3 L844.4 545.2 L844.1 547.2 L843.7 549.1 L843.2 551.1 L842.6 553.1 L842.0 555.0 L841.2 557.0 L840.4 558.9 L839.5 560.8 L838.5 562.6 L837.4 564.4 L836.3 566.2 L835.1 567.9 L833.9 569.5 L832.6 571.0 L831.3 572.4 L829.9 573.8 L828.5 575.0 L827.1 576.1 L825.6 577.2 L824.1 578.1 L822.7 578.9 L821.2 579.6 L819.7 580.2 L818.2 580.6 L816.8 580.9 L815.3 581.1 L813.9 581.2 L812.6 581.1 L811.2 580.9 L810.0 580.6 L808.7 580.1 L807.5 579.5 L806.4 578.8 L805.4 578.0"/>
<!-- lower edge -->
<path d="M769 641 L774.400 636.500 L801 619.500"/>
<ellipse class="w" cx="776.800" cy="610.200" rx="4.500" ry="7.500" transform="rotate(25 776.800 610.200)"/>
<ellipse class="w" cx="781.100" cy="623.300" rx="6" ry="8" transform="rotate(25 781.100 623.300)"/>
<ellipse cx="781.100" cy="623.300" rx="3.300" ry="4.500" transform="rotate(25 781.100 623.300)"/>
<ellipse cx="781.300" cy="623.500" rx="1.300" ry="1.800"/>
<!-- ring -->
<ellipse class="w" cx="739.700" cy="640.500" rx="30" ry="28.800" transform="rotate(20 739.700 640.500)"/>
<ellipse cx="740" cy="640.500" rx="24" ry="22.500" transform="rotate(20 740 640.500)"/>
<path d="M725 619 Q724 645 762 652"/>
</g>
<g id="arm"><!-- left bushing back -->
<path class="w" d="M211 519 L220.300 511.700 Q222 506 225.500 501.800 Q230 498 234.700 496.600 Q240 495 245.300 495.300 Q251 496 255.800 499.200 Q261 503 265 508.400 Q268 513 268.900 518.300 L268.900 524 L240 530 Z"/>
<path d="M222.900 509.700 Q228 503 234.700 500.500 Q241 498.500 247.900 499.900 Q254 502 258.400 505.800 Q262.500 510 265 515"/>
<!-- silhouette -->
<path class="w" d="M357.800 351 L373.900 343.700 Q375.500 343 376.800 343.200 L409.700 377.300 L416.300 385.300 Q425 394 432.300 404.300 L441.100 424.800 L450 440 L452.800 436.800 L463 438.900 Q467 440.500 467.100 444 Q467 449 463 453.200 L475.300 469.600 L477.400 476.800 L504 481.900 L508.100 486 L512.200 498.300 L516 506 L536.800 502.200 L540.300 503.400 L546.100 509.200 L546.100 515.100 L560.100 510.400 L571.800 509.200 L583.500 508.100 Q591 510 595.200 515.100 Q601 521 602.200 526.800 L601.800 536.100 L601.100 543.100 L595.200 559.500 L588.200 578.200 L581.200 589.900 L577.500 587 L570.700 601.600 L557.800 608.600 L553.100 608.600 L541.400 617.900 L540.300 620.300 L533.300 633.100 L513.400 625 L492.500 611.200 Q482 603 473.700 599.500 Q466 596.500 457.300 597.200 L438.600 601.900 L410.500 606.600 L380 607.700 L345.600 601.800 Q338 599 333.300 594.600 L321 582.400 L304.600 579.300 L301.600 576.200 L304.600 571.100 L296.400 568 L271.900 566 L241.300 561 L249.200 545.300 L235.400 515 Q235 508 241.300 505.100 Q245 505 247.900 508.400 L258.400 516.300 L274.200 522.900 L290.300 524 Q294 509 296.400 496.400 Q301 488 312.800 480 L340 462.500 L355 450 L353.500 454.200 L356.600 446 L373 437.900 L376 444 L392.500 425 L357.500 398.700 L357.500 393.700 Z"/>
<!-- upper bushing -->
<g transform="rotate(-15 359.200 370.700)">
<ellipse class="w" cx="359.200" cy="370.700" rx="13.900" ry="21"/>
<ellipse cx="358.500" cy="371" rx="11.500" ry="18"/>
</g>
<path d="M368.700 351 Q375 362 373.900 373.600 Q373.500 383 370.900 389.700 M357.800 394.100 Q365 395 370.900 389.700"/>
<ellipse class="w" cx="352.500" cy="374.500" rx="6.800" ry="9.500" transform="rotate(-12 352.500 374.500)"/>
<ellipse cx="352" cy="375" rx="4" ry="5.500" transform="rotate(-12 352 375)" style="stroke-width:2.200"/>
<path d="M356 365.500 L360.500 362.500 M358.500 379 L364 381 M355.500 384 L359 388"/>
<!-- upper arm lines -->
<path d="M368.700 351 L406 395.600 Q398 391 392.900 394.100 M374.600 382.400 L380.400 380.200 L404.600 394 M373.900 391.200 L392.900 404.300 L401.600 414.600"/>
<path d="M392.900 394.100 Q400 398 403 405.800 Q405.500 412 404.600 417.500 Q402 424 394.300 425.500"/>
<path d="M402.500 407.500 Q405 415 403.700 422.500 Q395 436 380 447.500 L340 468.700 L310 490 L305 501 Q301.500 512 300.500 521"/>
<path d="M353.500 454.200 L356.600 446 L373 437.900 L376 444 L357 453.500 Z M356.600 446 L359.500 452"/>
<path d="M395 457.500 L342.500 468.700 M330 474.700 Q370 465 397.600 460.400"/>
<!-- triangular plate -->
<path class="w" d="M411.900 437.900 L425.200 430.700 Q428 430 431 432 L450.800 451.200 Q457 460 458 469.600 Q456 475 450.800 475.700 L405.700 461.400 L391.400 455.300 Q396 449 401.600 445 Z"/>
<path d="M413 440 L425.500 433.800 L448.700 453.200 Q450.500 460 449.800 465.500 Q448 469 444.600 468.600 L405.700 459.400"/>
<ellipse cx="426.200" cy="439.900" rx="2.800" ry="1.800"/><ellipse cx="435.800" cy="451.200" rx="2.800" ry="1.800"/>
<ellipse cx="455.900" cy="443" rx="2.800" ry="2"/>
<path d="M427.200 400 Q433 412 440.500 422.500 L452.800 436.800 M438.500 418.400 Q448 437 456.900 457.300 L461 471.600"/>
<path d="M463 453.200 L467 452 L476.500 466 L475.300 469.600 M477.400 476.800 L508 486 M492 488 L504 481.900 M512.200 498.300 L508 501"/>
<!-- bowl -->
<path d="M330 486 Q345 481 360.700 478.800 Q382 476.500 401.600 477.800 Q416 480 428.300 486 Q438 492 444.600 502.400 L463 530 Q470 546 473.500 558"/>
<path d="M452.800 478.800 Q462 486 469.200 496.200 L493.800 540 M456.900 481.900 Q470 488 483.500 498.300 Q490 505 493.800 514.600 Q498 527 506 540"/>
<path d="M321 500.500 Q322 490 325.100 486 Q332 482 341.500 481 M321 500.500 Q320 516 323 529 Q330 536 341.500 539.400 L362 547.600 L392 553"/>
<path d="M312.800 484 Q311 503 312.800 521 L321 535.300 L345 546 M296.400 496.400 Q298 489 312.800 480"/>
<path d="M341.500 539.400 Q350 535 362 532 Q376 529 391 528.500 M425 532 Q440 535 452 542 M437 541 L447 549.500"/>
<!-- spring seat hole -->
<ellipse class="w" cx="407" cy="532.700" rx="17.500" ry="8.800"/>
<path d="M396 534 Q406 528 419 533 Q420 538 414 540.500 M399 537 Q407 533 416 537.500"/>
<path d="M376 546.500 Q390 543 404 546 Q412 548 418 551"/>
<!-- left arm ribs -->
<path d="M236 515.800 Q246 527 257.600 535.300 Q270 542 284.200 545.500 Q310 550 333.300 551.600 L390 555.700 L426.900 556.200 L473.700 550.300"/>
<path d="M249.400 541.400 L261.600 547.600 L292.400 555.700 L333.300 558.800 L390 560.900 L430 561 L474 556"/>
<path d="M249.400 549.600 L292.400 561.900 L333.300 567 L390 570 L405.800 574.900 L415.200 566.700 L457.300 564.400 Q478 567 494.800 573.700 L525.300 583.100"/>
<path d="M304.600 571.100 L345.600 572.100 L390 574.200 L405.800 574.900 M345.600 572.100 L333 584.500 M351.500 574 L345.600 596 M408 578.500 L410.500 599.500 M421 570 L427 598"/>
<!-- left boss -->
<ellipse class="w" cx="285.600" cy="531.200" rx="11.300" ry="7.300"/>
<ellipse cx="285.600" cy="531.500" rx="5.500" ry="3.300" style="stroke-width:2"/>
<path d="M292.400 505.600 L296.500 506.500 L298.500 518 L293.400 521 Z"/>
<!-- small slots -->
<path d="M476 548.500 L498 552 Q509 555 509.500 558.500 Q508 562 503 561.500 L481 556.500 Q474 554 476 548.500Z"/>
<path d="M497.500 544 Q499 541 503 541.500 L514 546 Q517 548 515 551 Q513 553.500 509 552.500 L499.500 549 Q496 547 497.500 544Z"/>
<!-- lug -->
<path d="M536.800 502.200 L540.300 510.400 L546.100 509.200 M540.300 510.400 L541 515.500"/>
<!-- valley -->
<path d="M504 505.700 Q507 514 511 519.700 Q516 523.500 522.700 524.400 Q530 524 536.800 520.900 L546.100 515.100"/>
<path d="M512.500 500.500 Q516 510 521 514.500"/>
<!-- end cap inner -->
<path d="M571.800 509.200 Q582 512 588.200 517.400 Q592 524 592.900 531.400 L592.900 540.800 Q588 552 582.500 562 Q578 569 575.300 573.500"/>
<!-- right bushing crescent -->
<path class="w" d="M601.800 536.100 Q598 539 595.200 543.100 L588.200 557.200 L582.400 571.200 L580 582.900 L581.200 589.900 L588.200 578.200 L595.200 559.500 L601.100 543.100 Z"/>
<path d="M584 570 L586.500 572.500 L589 566 M583.500 578 L580 582.900"/>
<!-- web -->
<path d="M529.700 542 Q538 535 548.400 531.400 Q558 530 567.200 532.600 Q576 537 581.200 543.100 L585.900 554.800"/>
<path d="M529.700 542 Q532 545 536.800 545.500 Q549 545.500 560.100 547.800 Q568 552 574.200 559.500 L580 567.700"/>
<!-- ear -->
<path d="M518.100 554.800 Q519 552.500 521.600 552.500 L548.500 554.800 Q557 557 564.800 561.800 Q571 567 575.300 573.500 Q577.500 579 576.500 585.200 Q574 594 570.700 601.600"/>
<path d="M521.600 552.500 Q518.500 555 519.200 559.500 Q521 565 525 568.800 Q534 574 543.800 578.200 Q549 582 552 587.500 Q555 593 555.500 599.200 Q555.500 604 553.100 608.600 Q548 614 541.400 617.900 Q535 618.500 529.700 615.600 Q525.500 611.500 523.900 606.300 Q523.500 599 525 592.200 L527.400 575.900 L526 569.500"/>
<path d="M525 557 Q526.500 562.500 529.700 566.500 Q537 570.500 546.100 573.500 Q552 578.500 555.500 585.200 Q558 592 557.800 599.200 L556.500 608.600"/>
<ellipse cx="555.500" cy="575.400" rx="4.300" ry="4.500"/><ellipse cx="541.400" cy="599.700" rx="5.300" ry="4.800"/>
<path d="M553 579.500 L549.600 586.400"/>
<path d="M517.500 524 Q505 520 498 509"/>
<!-- left bushing front -->
<path class="w" d="M205.800 524.200 Q208 521 211 519 Q215 517.500 220.300 517 Q226 516.500 232.100 518.300 Q237 521 241.300 525.500 Q245 530 246.600 534.700 Q249 540 249.200 545.300 Q249 550 246.600 553.200 Q244 557 241.300 558.400 L230 562 Z"/>
<path d="M209.500 521.500 Q215 519.500 221.500 519.500 Q228 520 233.500 523 Q239 527 242.500 533 Q245.500 539 245.500 545.500 Q245 551 243.500 554.500"/>
<ellipse class="w" cx="221" cy="544.300" rx="21" ry="21.400"/>
<ellipse cx="222" cy="544.200" rx="5.900" ry="5.900"/>
</g>
<g id="link9"><path d="M513.300 372.400 L535.200 382.800"/>
<path class="r" d="M538 379 Q541 375 545.600 374.300 L555.100 373.300 Q561 374.500 564.600 378 Q568 382 568.400 386.600 Q569 393 567.500 398 L565.600 405.600 Q568 409 567.500 413.200 Q567 419 564.600 424.600 L557 439.800 Q553 446 552.300 451.300 Q554 457 553.200 462.700 Q552.500 469 549.400 474 Q545.500 479 539.900 480.700 Q534 482.500 528.500 481.700 Q522.500 480 519 476 Q515.500 472 515.600 466.500 Q516 459 519 453.200 L528.500 439.800 L538 424.600 Q541 418 540.900 411.300 Q536 406 534.200 399.900 Q532.500 394 533.300 388.500 Q534.500 383 538 379Z"/>
<!-- inner details -->
<path d="M548 380.500 Q543.500 387 544.500 396 Q545.500 403 550 407.500 Q553 411 551.300 415 L543.700 449.400 Q536 453 532 460 Q529 467 531 475"/>
<path d="M562.700 411.300 L550.400 449.400 M546 380 Q541 388 542 397 Q543 405 547.500 409.500"/>
<ellipse cx="558" cy="397" rx="8.500" ry="12" transform="rotate(-20 558 397)"/>
<ellipse cx="558.500" cy="397.500" rx="5.500" ry="8" transform="rotate(-20 558.500 397.500)"/>
<ellipse cx="559.500" cy="398.500" rx="2.800" ry="4" transform="rotate(-20 559.500 398.500)" style="stroke-width:2.200"/>
<ellipse cx="540.900" cy="467.400" rx="8.500" ry="11" transform="rotate(-25 540.900 467.400)"/>
<ellipse cx="541.500" cy="468" rx="5.500" ry="7.500" transform="rotate(-25 541.500 468)"/>
<ellipse cx="542.500" cy="469" rx="2.800" ry="4" transform="rotate(-25 542.500 469)" style="stroke-width:2.200"/>
<path d="M565.600 400.900 L575 405.600"/>
</g>
<g id="bolts10"><g transform="translate(574.5 405) rotate(31.5)"><path class="w" d="M30 -8.5 L38.0 -8.5 L41.3 -4.2 L41.3 4.2 L38.0 8.5 L30 8.5 Z"/><path d="M41.3 -4.2 L32 -4.2"/><path d="M41.3 4.2 L32 4.2"/><path d="M37.0 -7.0 Q39.9 0 37.0 7.0"/><ellipse class="w" cx="30" cy="0" rx="5" ry="9.5"/><path class="w" d="M30 -3.9 L2 -3.9 Q-1.500 -3.9 -1.500 0 Q-1.500 3.9 2 3.9 L30 3.9 Q32.5 0 30 -3.9Z"/><path d="M4.4 -3.9 Q0.6 0 2.0 3.9"/><path d="M7.6 -3.9 Q3.8 0 5.2 3.9"/><path d="M10.8 -3.9 Q7.0 0 8.4 3.9"/><path d="M14.0 -3.9 Q10.2 0 11.6 3.9"/><path d="M17.2 -3.9 Q13.4 0 14.8 3.9"/><path d="M20.4 -3.9 Q16.6 0 18.0 3.9"/></g><g transform="translate(500 439) rotate(209.3)"><path class="w" d="M31 -8.5 L39.0 -8.5 L42.3 -4.2 L42.3 4.2 L39.0 8.5 L31 8.5 Z"/><path d="M42.3 -4.2 L33 -4.2"/><path d="M42.3 4.2 L33 4.2"/><path d="M38.0 -7.0 Q40.9 0 38.0 7.0"/><ellipse class="w" cx="31" cy="0" rx="5" ry="9.5"/><path class="w" d="M31 -3.9 L2 -3.9 Q-1.500 -3.9 -1.500 0 Q-1.500 3.9 2 3.9 L31 3.9 Q33.5 0 31 -3.9Z"/><path d="M4.4 -3.9 Q0.6 0 2.0 3.9"/><path d="M7.6 -3.9 Q3.8 0 5.2 3.9"/><path d="M10.8 -3.9 Q7.0 0 8.4 3.9"/><path d="M14.0 -3.9 Q10.2 0 11.6 3.9"/><path d="M17.2 -3.9 Q13.4 0 14.8 3.9"/><path d="M20.4 -3.9 Q16.6 0 18.0 3.9"/></g><path d="M500.500 440 L502.500 441.500 L502.500 480"/><path d="M524 481.500 L524 501"/></g>
<g id="nut12"><path d="M475.600 348.500 L487.300 355 M493.900 360.200 L503.400 364.600 M513.600 371.100 L535 383.700"/>
<!-- nut 12 -->
<path class="w" d="M470.800 338.600 L466.500 340.500 L463.900 346.400 L465.500 352.400 L470 357 L476 357.500 L476 340Z"/>
<path d="M466.500 340.500 Q469 343 469.500 346 L468.500 351.500 L465.500 352.400 M469.500 346 L474 344 M468.500 351.500 L471 355"/>
<ellipse class="w" cx="474.700" cy="348.400" rx="6.500" ry="9" transform="rotate(20 474.700 348.400)"/>
<ellipse cx="474.500" cy="348.700" rx="3" ry="4" transform="rotate(20 474.500 348.700)" style="stroke-width:2.300"/>
<path d="M475.600 348.500 L487.300 355"/>
<!-- washer 11 -->
<ellipse class="w" cx="493.200" cy="359.600" rx="6.500" ry="9" transform="rotate(20 493.200 359.600)"/>
<ellipse cx="493" cy="360" rx="3" ry="4.200" transform="rotate(20 493 360)" style="stroke-width:2.300"/>
<path d="M493.900 360.200 L503.400 364.600"/>
</g>
<g id="nut17"><path d="M666.800 548.500 L684.400 541.400 M695.800 536.100 L712 530.200 M763 509 L790.400 499"/>
<!-- nut 17 -->
<ellipse class="w" cx="658.800" cy="552.800" rx="9.300" ry="14" transform="rotate(-15 658.800 552.800)"/>
<path class="w" d="M642.600 549.900 L645.500 544.700 L650.700 542.300 L658.300 546.600 L663 555.600 L658.300 566 L653 567.500 L646.400 563.200 L642.600 554.700 Z"/>
<path d="M644.500 548 L651.200 545.600 L655.400 549.900 L657.300 559.400 L653 566 L646.400 563.200 M655.400 549.900 L658.300 546.600 M657.300 559.400 L663 555.600"/>
<ellipse cx="649.300" cy="556.600" rx="3.300" ry="5.200" transform="rotate(-15 649.300 556.600)"/>
<!-- washer 16 -->
<path class="w" d="M677.800 523.300 Q678.500 530 675.900 534.700 Q674.500 538.500 673.500 541.400 L675.900 549 Q680 550 682.500 551.800 Q686 555 688.200 559.400 Q690 561.500 692 559.400 Q693.500 556 693 552.800 Q694 546 695.800 541.400 Q696.500 538 694.400 535.700 Q690 532 686.300 530.400 Q681 527 679.500 523.500 Z" style="stroke:none"/>
<path d="M677.800 523.300 Q678.500 530 675.900 534.700 Q674.500 538.500 673.500 541.400 M675.900 549 Q680 550 682.500 551.800 Q686 555 688.200 559.400 Q690 561.500 692 559.400 Q693.500 556 693 552.800 Q694 546 695.800 541.400 Q696.500 538 694.400 535.700 Q690 532 686.300 530.400 Q681 527 679.500 523.500 L677.800 523.300"/>
<ellipse cx="684.900" cy="541.800" rx="3.600" ry="5.200" transform="rotate(-10 684.900 541.800)" style="stroke-width:2.200"/>
<path d="M666.800 548.500 L684.400 541.400"/>
</g>
<g id="bolt15"><g transform="translate(839.5 388.6) rotate(-21.6)"><path class="w" d="M52 -10.5 L61.5 -10.5 L65.6 -5.2 L65.6 5.2 L61.5 10.5 L52 10.5 Z"/><path d="M65.6 -5.2 L54 -5.2"/><path d="M65.6 5.2 L54 5.2"/><path d="M60.5 -9.0 Q63.9 0 60.5 9.0"/><ellipse class="w" cx="52" cy="0" rx="7.5" ry="12.5"/><path class="w" d="M52 -4.7 L2 -4.7 Q-1.500 -4.7 -1.500 0 Q-1.500 4.7 2 4.7 L52 4.7 Q54.5 0 52 -4.7Z"/><path d="M4.8 -4.7 Q1.0 0 2.4 4.7"/><path d="M8.4 -4.7 Q4.6 0 6.0 4.7"/><path d="M12.0 -4.7 Q8.2 0 9.6 4.7"/><path d="M15.6 -4.7 Q11.8 0 13.2 4.7"/><path d="M19.2 -4.7 Q15.4 0 16.8 4.7"/><path d="M22.8 -4.7 Q19.0 0 20.4 4.7"/><path d="M26.4 -4.7 Q22.6 0 24.0 4.7"/><path d="M30.0 -4.7 Q26.2 0 27.6 4.7"/><path d="M33.6 -4.7 Q29.8 0 31.2 4.7"/><path d="M37.2 -4.7 Q33.4 0 34.8 4.7"/><path d="M40.8 -4.7 Q37.0 0 38.4 4.7"/></g><path d="M838 389.300 L828 394.500"/><path d="M828 394.500 L828 470" style="stroke-dasharray:21 4 5 3 60;stroke-linecap:butt"/></g>
<g id="leaders"><path d="M367.6 63.9L390.3 63.9" /><path d="M377.4 179.9L400.8 179.9" /><path d="M505 226L505 250" /><path d="M557.3 214.4L557.3 238" /><path d="M595.3 185L595.3 208.5" /><path d="M620.1 172L620.1 196" /><path d="M560.8 351L560.8 373.3" /><path d="M487.5 404L487.5 422.5" /><path d="M767.5 323L790 323" /><path d="M863 349L863 370" /><path d="M679.7 500L679.7 522.8" /><path d="M653 515.2L653 536.6" /><path d="M815.7 626.7L815.7 649" /><path d="M382 610.6L382 633.5" /><path d="M468.6 315.6L468.6 336.8" /><path d="M496.5 326.5L496.5 347.7" /><path d="M598.3 391.4L598.3 411.3" /><path d="M431.600 210.300 L393.700 548" style="stroke-dasharray:47.500 6.500 8 6.500;stroke-linecap:butt"/></g>
<g id="labels"><g style="opacity:0.999"><text transform="translate(359.5 71.2) scale(1 1)" font-size="19.5" text-anchor="middle">1</text><text transform="translate(369 185.6) scale(1 1)" font-size="19.5" text-anchor="middle">4</text><text transform="translate(504 219.5) scale(1 1)" font-size="19.5" text-anchor="middle">5</text><text transform="translate(555 208.0) scale(1 1)" font-size="19.5" text-anchor="middle">6</text><text transform="translate(595.5 181.0) scale(1 1)" font-size="19.5" text-anchor="middle">7</text><text transform="translate(621 168.0) scale(1 1)" font-size="19.5" text-anchor="middle">8</text><text transform="translate(561 348.0) scale(1 1)" font-size="19.5" text-anchor="middle">9</text><text transform="translate(489 398.0) scale(1 1)" font-size="19.5" text-anchor="middle">10</text><text transform="translate(599.6 385.5) scale(1 1)" font-size="19.5" text-anchor="middle">10</text><text transform="translate(497.5 320.8) scale(1 1)" font-size="19.5" text-anchor="middle">11</text><text transform="translate(469.7 310.9) scale(1 1)" font-size="19.5" text-anchor="middle">12</text><text transform="translate(384 651.7) scale(1 1)" font-size="19.5" text-anchor="middle">13</text><text transform="translate(803.3 330.5) scale(1 1)" font-size="19.5" text-anchor="middle">14</text><text transform="translate(863.7 343.3) scale(1 1)" font-size="19.5" text-anchor="middle">15</text><text transform="translate(680.7 495.5) scale(1 1)" font-size="19.5" text-anchor="middle">16</text><text transform="translate(654 510.0) scale(1 1)" font-size="19.5" text-anchor="middle">17</text><text transform="translate(816.7 666.9) scale(1 1)" font-size="19.5" text-anchor="middle">18</text></g></g>
</svg>
</body></html>
